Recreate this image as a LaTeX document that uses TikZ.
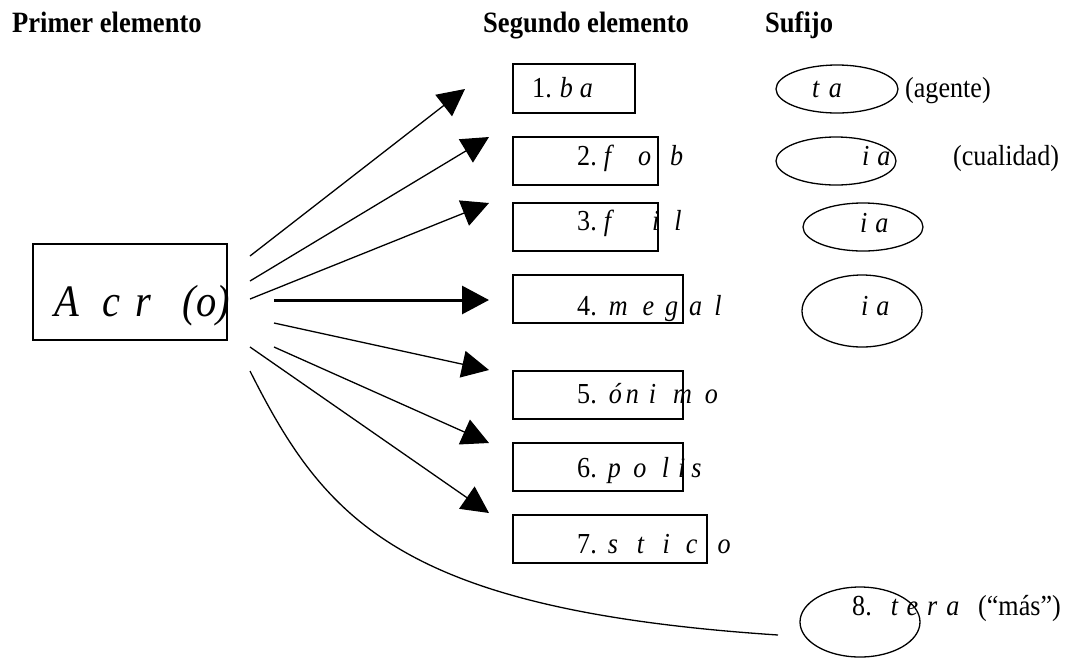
\documentclass[tikz,border=0pt]{standalone}
\usepackage{fontspec}
\setmainfont[FakeStretch=0.9]{Liberation Serif}
\usetikzlibrary{arrows.meta,shapes.geometric}
\begin{document}
\begin{tikzpicture}[x=1pt,y=-1pt,
  lbl/.style={inner sep=0pt, anchor=base west, font=\fontsize{29}{32}\selectfont},
  hdr/.style={inner sep=0pt, anchor=base west, font=\fontsize{29.5}{32}\selectfont\bfseries},
  bigl/.style={inner sep=0pt, anchor=base west, font=\fontsize{45}{48}\selectfont\itshape},
  wbox/.style={draw, line width=1.3pt, inner sep=0pt},
  oval/.style={draw, ellipse, line width=1.3pt, inner sep=0pt},
  conn/.style={line width=1.3pt, -{Triangle[length=27pt,width=27pt]}},
  thick conn/.style={line width=3pt, -{Triangle[length=27pt,width=28pt]}},
  curveline/.style={line width=1.3pt}
]
\useasboundingbox (0,0) rectangle (1069,657);

% headers
\node[hdr] (h1) at (12,32) {Primer elemento};
\node[hdr] (h2) at (483,32) {Segundo elemento};
\node[hdr] (h3) at (765,32) {Sufijo};

% main box
\node[wbox, minimum width=194pt, minimum height=96pt] (main) at (130,292) {};
\node[bigl] (maintxt) at (54,316) {A\kern24pt c\kern15pt r\kern31pt (o)};

% second element boxes
\node[wbox, minimum width=122pt, minimum height=49pt] (b1) at (574,88.5) {};
\node[wbox, minimum width=145pt, minimum height=48pt] (b2) at (585.5,161) {};
\node[wbox, minimum width=145pt, minimum height=48pt] (b3) at (585.5,227) {};
\node[wbox, minimum width=170pt, minimum height=48pt] (b4) at (598,299) {};
\node[wbox, minimum width=170pt, minimum height=48pt] (b5) at (598,395) {};
\node[wbox, minimum width=170pt, minimum height=48pt] (b6) at (598,467) {};
\node[wbox, minimum width=194pt, minimum height=48pt] (b7) at (610,539) {};

\node[lbl] (t1) at (532,97) {1.\kern8pt\textit{b}\kern7pt\textit{a}};
\node[lbl] (t2) at (577,165) {2.\kern7pt\textit{f}\kern24pt\textit{o}\kern19pt\textit{b}};
\node[lbl] (t3) at (577,230) {3.\kern7pt\textit{f}\kern38pt\textit{i}\kern15pt\textit{l}};
\node[lbl] (t4) at (577,315) {4.\kern12pt\textit{m}\kern15pt\textit{e}\kern11pt\textit{g}\kern11pt\textit{a}\kern12pt\textit{l}};
\node[lbl] (t5) at (577,403) {5.\kern12pt\textit{ó}\kern4pt\textit{n}\kern10pt\textit{i}\kern17pt\textit{m}\kern13pt\textit{o}};
\node[lbl] (t6) at (577,477) {6.\kern11pt\textit{p}\kern12.5pt\textit{o}\kern15.5pt\textit{l}\kern9pt\textit{i}\kern6pt\textit{s}};
\node[lbl] (t7) at (577,553) {7.\kern11pt\textit{s}\kern19pt\textit{t}\kern18pt\textit{i}\kern16pt\textit{c}\kern20pt\textit{o}};

% suffix ovals
\node[oval, minimum width=122pt, minimum height=48pt] (e1) at (837,89) {};
\node[oval, minimum width=120pt, minimum height=48pt] (e2) at (836,161) {};
\node[oval, minimum width=120pt, minimum height=48pt] (e3) at (863,227) {};
\node[oval, minimum width=120pt, minimum height=72pt] (e4) at (862,311) {};
\node[oval, minimum width=120pt, minimum height=70pt] (e5) at (860,622) {};

\node[lbl] (s1) at (812,97) {\textit{t}\kern9pt\textit{a}};
\node[lbl] (s2) at (862,165) {\textit{i}\kern8pt\textit{a}};
\node[lbl] (s3) at (860,232) {\textit{i}\kern8pt\textit{a}};
\node[lbl] (s4) at (861,315) {\textit{i}\kern8pt\textit{a}};
\node[lbl] (s5) at (852,615) {8.\kern19pt\textit{t}\kern8pt\textit{e}\kern9pt\textit{r}\kern9pt\textit{a}};

\node[lbl] (n1) at (905,97) {(agente)};
\node[lbl] (n2) at (953,165) {(cualidad)};
\node[lbl] (n3) at (978,615) {(“más”)};

% connector end points
\coordinate (a1s) at (250,256); \coordinate (a1e) at (465,89);
\coordinate (a2s) at (250,281); \coordinate (a2e) at (489,137);
\coordinate (a3s) at (250,299); \coordinate (a3e) at (489,203);
\coordinate (a4s) at (274,300); \coordinate (a4e) at (489,300);
\coordinate (a5s) at (274,323); \coordinate (a5e) at (489,370);
\coordinate (a6s) at (274,347); \coordinate (a6e) at (489,443);
\coordinate (a7s) at (250,347); \coordinate (a7e) at (489,513);
\coordinate (c8s) at (250,371); \coordinate (c8e) at (778,635);

\draw[conn] (a1s) -- (a1e);
\draw[conn] (a2s) -- (a2e);
\draw[conn] (a3s) -- (a3e);
\draw[thick conn] (a4s) -- (a4e);
\draw[conn] (a5s) -- (a5e);
\draw[conn] (a6s) -- (a6e);
\draw[conn] (a7s) -- (a7e);
\draw[curveline] (c8s) .. controls (325,520) and (400,610) .. (c8e);
\end{tikzpicture}
\end{document}
